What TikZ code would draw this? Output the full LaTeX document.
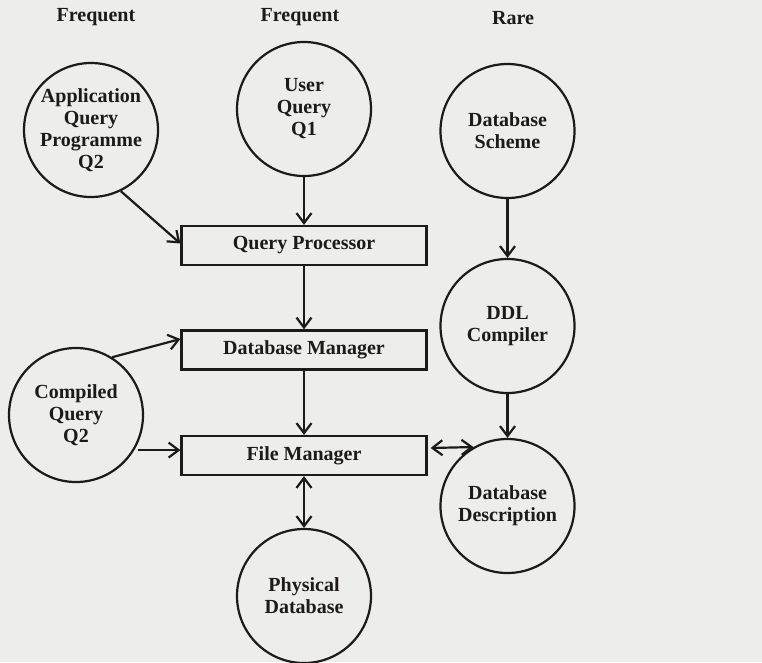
\documentclass[tikz,border=0pt]{standalone}
\usepackage{fontspec}
\setmainfont{Liberation Serif}
\usetikzlibrary{arrows.meta}
\definecolor{paper}{RGB}{237,237,235}
\definecolor{ink}{RGB}{28,26,26}
\tikzset{
  lbl/.style={font=\bfseries\fontsize{20}{22}\selectfont, text=ink, align=center, inner sep=0pt},
  bubble/.style={lbl, circle, draw=ink, line width=2.2pt, minimum size=134pt},
  procbox/.style={lbl, rectangle, draw=ink, line width=2.2pt, minimum width=245pt, minimum height=39pt},
  conn/.style={draw=ink, line width=2.2pt, -{Straight Barb[length=10pt,width=15pt]}},
  bconn/.style={draw=ink, line width=2.2pt, {Straight Barb[length=10pt,width=15pt]}-{Straight Barb[length=10pt,width=15pt]}}
}
\begin{document}
\begin{tikzpicture}[x=1pt,y=-1pt]
\fill[paper] (0,0) rectangle (762,662);
\useasboundingbox (0,0) rectangle (762,662);

\node[lbl] (f1) at (96,17) {Frequent};
\node[lbl] (f2) at (300,17) {Frequent};
\node[lbl] (rare) at (513,18) {Rare};

\node[bubble] (app) at (91,130) {Application\\Query\\Programme\\Q2};
\node[bubble] (uq) at (304,109) {User\\Query\\Q1};
\node[bubble] (scheme) at (507.5,131) {Database\\Scheme};
\node[bubble] (ddl) at (507.5,326) {DDL\\Compiler};
\node[bubble] (comp) at (76,415) {Compiled\\Query\\Q2};
\node[bubble] (ddesc) at (507.5,506) {Database\\Description};
\node[bubble] (phys) at (304,596) {Physical\\Database};

\node[procbox] (qp) at (304,245.5) {Query Processor};
\node[procbox] (dm) at (304,350) {Database Manager};
\node[procbox] (fm) at (304,455.5) {File Manager};

\draw[conn] (app.-64) -- ([yshift=2pt]qp.west);
\draw[conn] (uq) -- (qp);
\draw[conn] (qp) -- (dm);
\draw[conn] (comp.58) -- ([yshift=11pt]dm.west);
\draw[conn] (dm) -- (fm);
\draw[conn, shorten <=4pt] (comp.-31) -- (comp.-31 -| fm.west);
\draw[bconn] (fm) -- (phys);
\draw[conn] (scheme) -- (ddl);
\draw[conn] (ddl) -- (ddesc);
\draw[bconn] ([xshift=3pt,yshift=7.5pt]fm.east) -- (ddesc.120);
\end{tikzpicture}
\end{document}
